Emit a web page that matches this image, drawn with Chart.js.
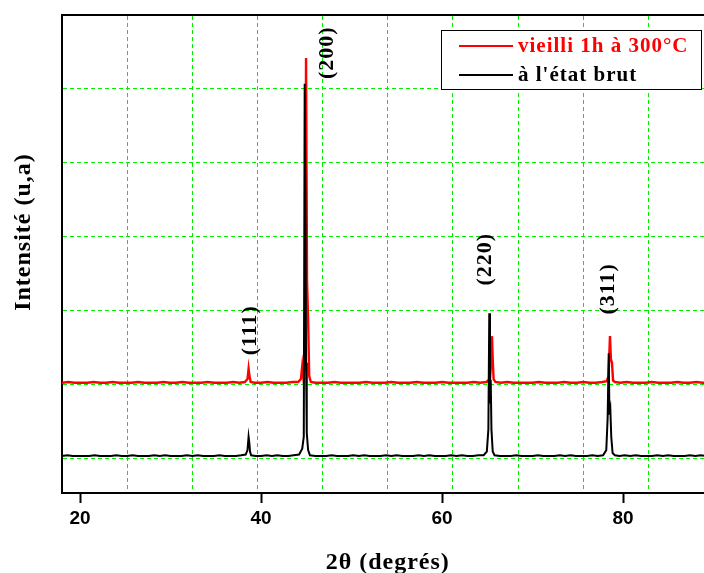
<!DOCTYPE html>
<html>
<head>
<meta charset="utf-8">
<script src="https://cdn.jsdelivr.net/npm/chart.js@4/dist/chart.umd.min.js"></script>
<style>
  html, body { margin: 0; padding: 0; background: #fff; overflow: hidden; }
  #wrap { width: 704px; height: 573px; overflow: hidden; }
</style>
</head>
<body>
<div id="wrap"><canvas id="xrd" width="730" height="573"></canvas></div>
<script>
// 2-theta positions (degrees) and intensities (a.u.)
const blackTheta = [18.0, 18.6, 19.2, 19.8, 20.4, 21.0, 21.6, 22.2, 22.8, 23.4, 24.0, 24.6, 25.2, 25.8, 26.4, 27.0, 27.6, 28.2, 28.8, 29.4,
  30.0, 30.6, 31.2, 31.8, 32.4, 33.0, 33.6, 34.2, 34.8, 35.4, 36.0, 36.6, 37.2, 37.8, 38.3, 38.5, 38.62, 38.7, 38.78, 38.9,
  39.4, 40.0, 40.6, 41.2, 41.8, 42.4, 43.0, 43.6, 44.2, 44.55, 44.72, 44.82, 44.9, 44.97, 45.05, 45.2, 45.4, 46.0, 46.6, 47.2,
  47.8, 48.4, 49.0, 49.6, 50.2, 50.8, 51.4, 52.0, 52.6, 53.2, 53.8, 54.4, 55.0, 55.6, 56.2, 56.8, 57.4, 58.0, 58.6, 59.2,
  59.8, 60.4, 61.0, 61.6, 62.2, 62.8, 63.4, 64.0, 64.6, 64.95, 65.12, 65.22, 65.3, 65.38, 65.46, 65.6, 65.8, 66.4, 67.0, 67.6,
  68.2, 68.8, 69.4, 70.0, 70.6, 71.2, 71.8, 72.4, 73.0, 73.6, 74.2, 74.8, 75.4, 76.0, 76.6, 77.2, 77.8, 78.15, 78.3, 78.42,
  78.5, 78.6, 78.7, 78.85, 79.1, 79.6, 80.2, 80.8, 81.4, 82.0, 82.6, 83.2, 83.8, 84.4, 85.0, 85.6, 86.2, 86.8, 87.4, 88.0,
  88.6, 89.2, 90.0];
const blackIntensity = [0.04, 0.05, 0.04, 0.04, 0.04, 0.04, 0.05, 0.04, 0.04, 0.04, 0.05, 0.04, 0.04, 0.05, 0.04, 0.04, 0.04, 0.05, 0.04, 0.05,
  0.04, 0.04, 0.04, 0.05, 0.04, 0.05, 0.04, 0.04, 0.04, 0.05, 0.04, 0.04, 0.04, 0.05, 0.06, 0.12, 0.30, 0.22, 0.10, 0.05,
  0.04, 0.04, 0.05, 0.04, 0.05, 0.04, 0.04, 0.05, 0.06, 0.14, 0.30, 5.07, 3.60, 1.30, 0.35, 0.12, 0.05, 0.04, 0.04, 0.04,
  0.05, 0.04, 0.04, 0.04, 0.05, 0.04, 0.05, 0.04, 0.04, 0.04, 0.05, 0.04, 0.05, 0.04, 0.04, 0.04, 0.05, 0.04, 0.05, 0.04,
  0.04, 0.04, 0.05, 0.04, 0.05, 0.04, 0.04, 0.05, 0.05, 0.10, 0.40, 1.97, 0.75, 1.07, 0.40, 0.10, 0.05, 0.04, 0.04, 0.04,
  0.05, 0.04, 0.04, 0.04, 0.05, 0.04, 0.04, 0.04, 0.05, 0.04, 0.05, 0.04, 0.04, 0.04, 0.05, 0.04, 0.05, 0.12, 0.55, 1.43,
  0.60, 0.67, 0.30, 0.08, 0.05, 0.04, 0.05, 0.04, 0.05, 0.04, 0.04, 0.04, 0.05, 0.04, 0.05, 0.04, 0.04, 0.04, 0.05, 0.04,
  0.05, 0.04, 0.04];

const redTheta = [18.0, 18.7, 19.4, 20.1, 20.8, 21.5, 22.2, 22.9, 23.6, 24.3, 25.0, 25.7, 26.4, 27.1, 27.8, 28.5, 29.2, 29.9, 30.6, 31.3,
  32.0, 32.7, 33.4, 34.1, 34.8, 35.5, 36.2, 36.9, 37.6, 38.2, 38.5, 38.62, 38.72, 38.85, 39.3, 40.0, 40.7, 41.4, 42.1, 42.8,
  43.5, 44.1, 44.4, 44.55, 44.68, 44.85, 44.97, 45.08, 45.2, 45.32, 45.5, 46.0, 46.7, 47.4, 48.1, 48.8, 49.5, 50.2, 50.9, 51.6,
  52.3, 53.0, 53.7, 54.4, 55.1, 55.8, 56.5, 57.2, 57.9, 58.6, 59.3, 60.0, 60.7, 61.4, 62.1, 62.8, 63.5, 64.2, 64.9, 65.3,
  65.42, 65.52, 65.6, 65.7, 65.9, 66.5, 67.2, 67.9, 68.6, 69.3, 70.0, 70.7, 71.4, 72.1, 72.8, 73.5, 74.2, 74.9, 75.6, 76.3,
  77.0, 77.7, 78.2, 78.4, 78.56, 78.66, 78.78, 78.9, 79.1, 79.7, 80.4, 81.1, 81.8, 82.5, 83.2, 83.9, 84.6, 85.3, 86.0, 86.7,
  87.4, 88.1, 88.8, 89.5, 90.0];
const redIntensity = [1.03, 1.04, 1.03, 1.03, 1.03, 1.04, 1.03, 1.03, 1.04, 1.03, 1.03, 1.03, 1.04, 1.03, 1.03, 1.03, 1.04, 1.03, 1.03, 1.04,
  1.03, 1.03, 1.03, 1.04, 1.03, 1.03, 1.03, 1.04, 1.03, 1.04, 1.08, 1.22, 1.12, 1.04, 1.03, 1.03, 1.04, 1.03, 1.03, 1.03,
  1.04, 1.04, 1.08, 1.26, 1.10, 1.30, 5.42, 2.40, 1.88, 1.12, 1.04, 1.03, 1.03, 1.03, 1.04, 1.03, 1.03, 1.03, 1.03, 1.04,
  1.03, 1.03, 1.03, 1.04, 1.03, 1.03, 1.03, 1.04, 1.03, 1.03, 1.03, 1.04, 1.03, 1.03, 1.03, 1.03, 1.04, 1.03, 1.04, 1.08,
  1.30, 1.66, 1.35, 1.08, 1.04, 1.03, 1.04, 1.03, 1.03, 1.03, 1.03, 1.04, 1.03, 1.03, 1.03, 1.04, 1.03, 1.03, 1.04, 1.03,
  1.03, 1.04, 1.05, 1.12, 1.66, 1.35, 1.30, 1.06, 1.04, 1.03, 1.04, 1.03, 1.03, 1.03, 1.04, 1.03, 1.03, 1.03, 1.04, 1.03,
  1.03, 1.04, 1.03, 1.03, 1.03];

const seriesNames = ["vieilli 1h à 300°C", "à l'état brut"];
const seriesColors = ["#ff0000", "#000000"];

const xTicks = [20, 40, 60, 80];
const xGrid = [25.2, 32.4, 39.6, 46.8, 54.0, 61.2, 68.4, 75.6, 82.8];
const yGrid = [0, 1, 2, 3, 4, 5];

// Miller indices and where their labels sit (theta, intensity)
const peakLabels = ["(111)", "(200)", "(220)", "(311)"];
const peakLabelTheta = [38.84, 47.35, 64.81, 78.34];
const peakLabelIntensity = [1.74, 5.49, 2.70, 2.30];

const toPoints = (xs, ys) => xs.map((x, i) => ({ x: x, y: ys[i] }));

const SERIF = '"Liberation Serif", "Times New Roman", serif';
const SANS = '"Liberation Sans", Arial, sans-serif';
const GREEN = '#00ee00';

// Labels, axis titles and boxed legend, drawn on top of the chart
const overlay = {
  id: 'overlay',
  afterDraw(chart) {
    const { ctx, chartArea, scales } = chart;
    const xs = scales.x, ys = scales.y;
    ctx.save();
    ctx.letterSpacing = '1px';
    ctx.fillStyle = '#000';

    // peak labels, rotated
    ctx.font = 'bold 22px ' + SERIF;
    ctx.textAlign = 'center';
    ctx.textBaseline = 'middle';
    peakLabels.forEach((txt, i) => {
      ctx.save();
      ctx.translate(xs.getPixelForValue(peakLabelTheta[i]), ys.getPixelForValue(peakLabelIntensity[i]));
      ctx.rotate(-Math.PI / 2);
      ctx.fillText(txt, 0, 0);
      ctx.restore();
    });

    // axis titles
    ctx.font = 'bold 24px ' + SERIF;
    ctx.textBaseline = 'alphabetic';
    ctx.fillText('2θ (degrés)', (chartArea.left + chartArea.right) / 2, 569);
    ctx.save();
    ctx.translate(30, 232);
    ctx.rotate(-Math.PI / 2);
    ctx.fillText('Intensité (u,a)', 0, 0);
    ctx.restore();

    // legend box
    const bx = 441, by = 30, bw = 260, bh = 59;
    ctx.fillStyle = '#fff';
    ctx.fillRect(bx, by, bw, bh);
    ctx.strokeStyle = '#000';
    ctx.lineWidth = 1;
    ctx.strokeRect(bx + 0.5, by + 0.5, bw, bh);
    ctx.font = 'bold 21px ' + SERIF;
    ctx.textAlign = 'left';
    ctx.textBaseline = 'middle';
    const rows = [46, 75];
    seriesNames.forEach((name, i) => {
      ctx.strokeStyle = seriesColors[i];
      ctx.lineWidth = 2;
      ctx.beginPath();
      ctx.moveTo(459, rows[i]);
      ctx.lineTo(513, rows[i]);
      ctx.stroke();
      ctx.fillStyle = seriesColors[i];
      ctx.fillText(name, 518, rows[i] + 1);
    });
    ctx.restore();
  }
};

new Chart(document.getElementById('xrd'), {
  type: 'line',
  data: {
    datasets: [
      {
        label: seriesNames[0],
        data: toPoints(redTheta, redIntensity),
        borderColor: seriesColors[0],
        borderWidth: 2.4,
        pointRadius: 0,
        tension: 0,
        order: 2
      },
      {
        label: seriesNames[1],
        data: toPoints(blackTheta, blackIntensity),
        borderColor: seriesColors[1],
        borderWidth: 2,
        pointRadius: 0,
        tension: 0,
        order: 1
      }
    ]
  },
  options: {
    responsive: false,
    animation: false,
    layout: { padding: { left: 62, top: 15, right: 16.5, bottom: 39.2 } },
    plugins: {
      legend: { display: false },
      tooltip: { enabled: false }
    },
    scales: {
      x: {
        type: 'linear',
        position: 'bottom',
        min: 18,
        max: 90,
        afterBuildTicks: (axis) => { axis.ticks = xTicks.map(v => ({ value: v })); },
        grid: { drawOnChartArea: false, drawTicks: true, tickLength: 10, tickWidth: 2, tickColor: '#000', color: '#000' },
        border: { display: true, color: '#000', width: 2 },
        ticks: { padding: 4, color: '#000', font: { family: SANS, size: 19, weight: 'bold' } }
      },
      xg: {
        type: 'linear',
        position: 'top',
        min: 18,
        max: 90,
        afterBuildTicks: (axis) => { axis.ticks = xGrid.map(v => ({ value: v })); },
        grid: { color: GREEN, lineWidth: 1, drawTicks: false },
        border: { display: true, color: '#000', width: 2, dash: [4, 3] },
        ticks: { display: false }
      },
      y: {
        type: 'linear',
        min: -0.46,
        max: 6,
        afterBuildTicks: (axis) => { axis.ticks = yGrid.map(v => ({ value: v })); },
        grid: { color: GREEN, lineWidth: 1, drawTicks: false },
        border: { display: true, color: '#000', width: 2, dash: [4, 3] },
        ticks: { display: false }
      }
    }
  },
  plugins: [overlay]
});
</script>
</body>
</html>
